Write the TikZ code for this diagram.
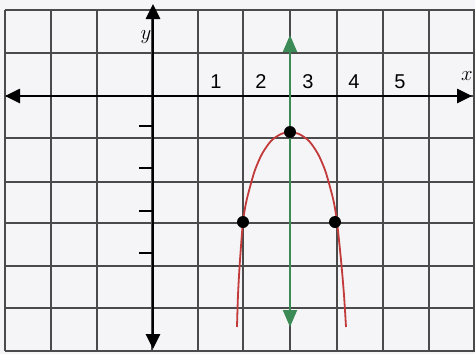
\documentclass[tikz,border=0pt]{standalone}
\usepackage{fontspec}
\setmainfont{Liberation Sans}
\usetikzlibrary{arrows.meta}
\definecolor{paper}{HTML}{F5F5F8}
\definecolor{gridc}{HTML}{4A4A4A}
\definecolor{greenc}{HTML}{3C8A55}
\definecolor{redc}{HTML}{C23A3A}
\begin{document}
\begin{tikzpicture}[x=1pt,y=-1pt,
  gridline/.style={draw=gridc, line width=1.5pt},
  axisline/.style={draw=black, line width=2.6pt,
    {Triangle[length=15pt,width=14pt]}-{Triangle[length=15pt,width=14pt]}},
  symline/.style={draw=greenc, line width=2pt,
    {Triangle[length=17pt,width=14pt]}-{Triangle[length=17pt,width=14pt]}},
  curve/.style={draw=redc, line width=1.8pt},
  dot/.style={circle, fill=black, inner sep=0pt, minimum size=12pt},
  ticklab/.style={font=\fontsize{20}{22}\selectfont, inner sep=0pt},
  varlab/.style={font=\fontsize{22}{24}\selectfont\itshape, inner sep=0pt},
  tickmark/.style={draw=black, line width=1.8pt}]
\useasboundingbox (0,0) rectangle (475,354);
\clip (0,0) rectangle (475,354);
\fill[paper] (0,0) rectangle (475,354);
% grid
\foreach \gx in {5,51,97,152,198,243,290,337,383,429,474}
  \draw[gridline] (\gx,10) -- (\gx,351);
\foreach \gy in {10,53,96,138,182,223,266,308,351}
  \draw[gridline] (5,\gy) -- (475,\gy);
% axes
\coordinate (xl) at (5,96);
\coordinate (xr) at (472,96);
\coordinate (yt) at (153,4);
\coordinate (yb) at (153,349);
\draw[axisline] (xl) -- (xr);
\draw[axisline] (yb) -- (yt);
% y ticks
\foreach \ty in {126,168,211,253}
  \draw[tickmark] (139,\ty) -- (153,\ty);
% tick labels
\node[ticklab] (l1) at (216,82) {1};
\node[ticklab] (l2) at (261,82) {2};
\node[ticklab] (l3) at (308,82) {3};
\node[ticklab] (l4) at (354,82) {4};
\node[ticklab] (l5) at (400,82) {5};
\node[varlab] (xlab) at (467,76) {$x$};
\node[varlab] (ylab) at (146,37) {$y$};
% axis of symmetry
\coordinate (st) at (290,35);
\coordinate (sb) at (290,327);
\draw[symline] (sb) -- (st);
% parabola
\draw[curve] plot[smooth] coordinates {
  (237,327) (238,295) (240,260) (243,222) (246,203) (250,187) (255,170) (262,154)
  (271,141) (281,134) (290,132)
  (299,134) (309,141) (318,154) (325,170) (330,187) (334,203) (337,222) (341,260)
  (344,295) (346,327)};
% points
\node[dot] (v) at (290,132) {};
\node[dot] (p1) at (243,222) {};
\node[dot] (p2) at (335,222) {};
\end{tikzpicture}
\end{document}
